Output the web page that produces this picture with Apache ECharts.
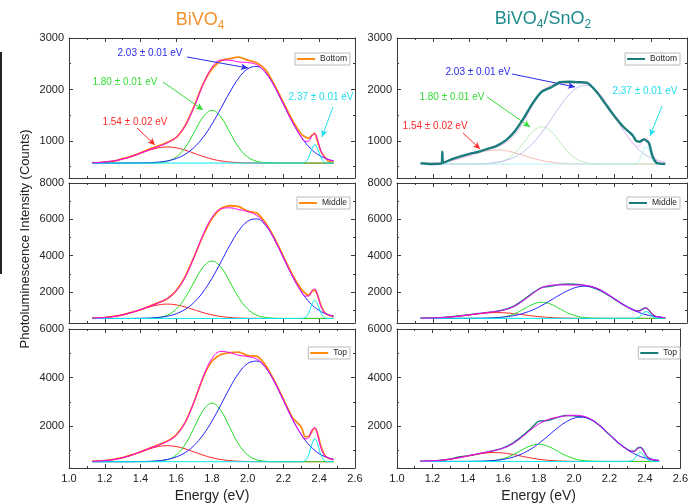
<!DOCTYPE html>
<html>
<head>
<meta charset="utf-8">
<script src="https://cdn.jsdelivr.net/npm/echarts@6/dist/echarts.min.js"></script>
<style>
  html, body { margin: 0; padding: 0; background: #fff; }
  #chart { width: 691px; height: 504px; }
</style>
</head>
<body>
<div id="chart"></div>
<script>
// energy axes (eV)
const energyGrid = [1.13,1.15,1.20,1.25,1.30,1.35,1.40,1.45,1.50,1.55,1.60,1.65,1.70,1.75,1.80,1.85,1.90,1.95,2.00,2.05,2.10,2.15,2.20,2.25,2.30,2.35,2.40,2.45,2.48];
const energyFit = [1.13,1.15,1.20,1.25,1.30,1.35,1.40,1.45,1.50,1.55,1.60,1.65,1.70,1.75,1.80,1.85,1.90,1.95,2.00,2.05,2.10,2.15,2.20,2.25,2.30,2.32,2.34,2.36,2.375,2.39,2.41,2.43,2.45,2.48];
const energyCyan = [1.13,2.27,2.30,2.32,2.34,2.36,2.375,2.39,2.41,2.43,2.45,2.48];
const energySpike = [1.13,1.15,1.20,1.245,1.25,1.255,1.30,1.35,1.40,1.45,1.50,1.55,1.60,1.65,1.70,1.75,1.80,1.85,1.90,1.95,2.00,2.05,2.10,2.15,2.20,2.25,2.30,2.32,2.34,2.36,2.375,2.39,2.41,2.43,2.45,2.48];

// BiVO4 - Bottom
const measL1 = [585,572,588,608,655,702,770,842,905,975,1065,1300,1672,2110,2400,2560,2600,2630,2570,2520,2380,2085,1740,1400,1130,1080,1050,1110,1150,1000,790,690,610,580];
const fitL1 = [576,579,591,612,648,699,763,830,893,961,1072,1294,1660,2093,2431,2571,2567,2535,2523,2482,2330,2055,1710,1364,1073,993,996,1109,1140,1027,802,682,642,613];
const redL1 = [576,579,591,612,648,699,760,821,866,883,866,821,760,699,648,612,591,579,573,571,570,570,570,570,570,570,570,570,570];
const greenL1 = [570,570,570,570,570,570,570,571,578,605,687,872,1166,1465,1595,1465,1166,872,687,605,578,571,570,570,570,570,570,570,570];
const blueL1 = [570,570,570,570,570,570,573,578,589,613,659,741,874,1069,1328,1634,1950,2224,2403,2446,2322,2054,1710,1364,1072,858,720,641,613];
const cyanL1 = [570,570,571,586,672,855,930,855,672,586,571,570];

// BiVO4 - Middle
const measL2 = [560,570,600,665,750,890,1030,1230,1420,1640,2080,2850,3950,5100,6050,6600,6750,6700,6450,6350,5800,4950,3950,2950,2150,1950,1820,2050,2100,1850,1250,880,740,650];
const fitL2 = [566,573,602,657,747,875,1041,1217,1405,1651,2070,2819,3921,5149,6115,6580,6635,6540,6423,6215,5718,4894,3880,2869,2019,1781,1781,2093,2173,1853,1214,875,759,675];
const redL2 = [566,573,602,657,747,875,1030,1183,1297,1340,1297,1183,1030,875,747,657,602,573,559,553,551,550,550,550,550,550,550,550,550];
const greenL2 = [550,550,550,550,550,550,552,562,603,736,1064,1688,2555,3368,3706,3368,2555,1688,1064,736,603,562,552,550,550,550,550,550,550];
const blueL2 = [550,550,550,550,550,550,559,572,605,675,809,1048,1436,2006,2762,3655,4578,5379,5900,6026,5664,4882,3878,2869,2016,1390,987,756,675];
const cyanL2 = [550,550,553,594,835,1351,1560,1351,835,594,553,550];

// BiVO4 - Top
const measL3 = [560,545,570,625,700,810,930,1090,1220,1380,1640,2150,3000,4000,4680,4950,5030,5050,4900,4880,4500,3850,3100,2350,1950,1560,1560,1800,1900,1700,1150,800,680,610];
const fitL3 = [543,549,574,619,694,801,938,1079,1214,1365,1625,2148,3005,4012,4784,5078,5027,4917,4863,4761,4421,3813,3050,2286,1643,1471,1514,1845,1944,1663,1085,785,689,625];
const redL3 = [543,549,574,619,694,801,931,1059,1154,1190,1154,1059,931,801,694,619,574,549,537,533,531,530,530,530,530,530,530,530,530];
const greenL3 = [530,530,530,530,530,530,530,533,548,611,805,1242,1933,2638,2945,2638,1933,1242,805,611,548,533,530,530,530,530,530,530,530];
const blueL3 = [530,530,530,530,530,530,537,547,572,624,726,907,1201,1633,2205,2881,3580,4186,4581,4677,4402,3810,3050,2286,1640,1166,861,686,625];
const cyanL3 = [530,530,533,572,798,1283,1480,1283,798,572,533,530];

// BiVO4/SnO2 - Bottom
const measR1 = [570,562,552,560,790,575,640,700,750,790,845,905,1010,1190,1450,1740,1960,2040,2140,2150,2140,2130,1960,1720,1480,1270,1110,1000,985,1030,1010,960,700,580,560,555];
const fitR1 = [556,558,568,587,618,663,719,777,832,884,965,1123,1386,1703,1962,2089,2116,2123,2133,2107,1987,1763,1481,1199,961,897,911,1028,1061,960,752,644,609,585];
const redR1 = [556,558,568,587,618,663,717,770,810,825,810,770,717,663,618,587,568,558,553,551,550,550,550,550,550,550,550,550,550];
const greenR1 = [550,550,550,550,550,550,550,551,556,574,633,764,971,1183,1275,1183,971,764,633,574,556,551,550,550,550,550,550,550,550];
const blueR1 = [550,550,550,550,550,550,552,556,566,585,622,689,798,957,1169,1419,1677,1901,2047,2082,1981,1762,1481,1199,960,785,672,608,585];
const cyanR1 = [550,550,551,565,646,820,890,820,646,565,551,550];

// BiVO4/SnO2 - Middle
const measR2 = [560,565,580,605,650,700,760,820,875,950,1060,1250,1580,1960,2260,2330,2420,2440,2420,2340,2180,1930,1620,1300,1050,980,980,1100,1120,1000,760,650,610,570];
const fitR2 = [561,564,576,598,634,685,750,817,880,942,1040,1232,1551,1932,2239,2379,2397,2389,2391,2358,2217,1958,1632,1306,1030,955,966,1090,1125,1012,783,662,623,595];
const redR2 = [561,564,576,598,634,685,747,809,855,872,855,809,747,685,634,598,576,564,558,556,555,555,555,555,555,555,555,555,555];
const greenR2 = [555,555,555,555,555,555,555,556,562,585,656,817,1072,1331,1444,1331,1072,817,656,585,562,556,555,555,555,555,555,555,555];
const blueR2 = [555,555,555,555,555,555,558,562,573,595,639,716,842,1026,1271,1560,1859,2118,2287,2327,2210,1957,1632,1306,1029,827,696,622,595];
const cyanR2 = [555,555,556,571,660,850,927,850,660,571,556,555];

// BiVO4/SnO2 - Top
const measR3 = [545,550,562,585,640,720,775,840,910,990,1100,1270,1540,1850,2200,2230,2340,2430,2420,2390,2250,1980,1640,1300,1040,970,960,1100,1130,1010,760,640,600,560];
const fitR3 = [547,551,564,590,632,691,766,846,918,992,1090,1257,1510,1811,2080,2260,2358,2417,2444,2409,2258,1988,1650,1313,1030,952,959,1080,1112,999,770,650,610,582];
const redR3 = [547,551,564,590,632,691,763,835,888,908,888,835,763,691,632,590,564,551,544,541,540,540,540,540,540,540,540,540,540];
const greenR3 = [540,540,540,540,540,540,540,543,552,582,656,796,991,1174,1250,1174,991,796,656,582,552,543,540,540,540,540,540,540,540];
const blueR3 = [540,540,540,540,540,540,543,548,558,582,626,706,836,1026,1278,1576,1883,2150,2324,2366,2246,1985,1650,1313,1029,820,686,609,582];
const cyanR3 = [540,540,541,556,644,832,908,832,644,556,541,540];

// y ticks for each row
const yRange = [[280, 3000], [300, 8000], [270, 6000]];
const yMajor = [[1000, 2000, 3000], [2000, 4000, 6000, 8000], [2000, 4000, 6000]];
const yMinor = [[500, 1500, 2500], [1000, 3000, 5000, 7000], [1000, 3000, 5000]];

// peak labels (row 1)
const peakLabels = ['2.03 \u00b1 0.01 eV', '1.80 \u00b1 0.01 eV', '1.54 \u00b1 0.02 eV', '2.37 \u00b1 0.01 eV'];
const annotL1 = [
  { at: [1.453, 2709], from: [1.660, 2631], to: [2.001, 2417] },
  { at: [1.313, 2145], from: [1.526, 2145], to: [1.750, 1602] },
  { at: [1.369, 1368], from: [1.380, 1252], to: [1.481, 922] },
  { at: [2.410, 1854], from: [2.477, 1660], to: [2.415, 1077] }
];
const annotR1 = [
  { at: [1.447, 2340], from: [1.634, 2301], to: [1.982, 2049] },
  { at: [1.303, 1854], from: [1.497, 1854], to: [1.734, 1271] },
  { at: [1.210, 1291], from: [1.364, 1155], to: [1.458, 844] },
  { at: [2.368, 1970], from: [2.462, 1679], to: [2.396, 1096] }
];

const font = 'Liberation Sans, Arial, sans-serif';
const frame = '#3a3a3a';
const orange = '#ff8a10', teal = '#1b7c7c', magenta = '#ff00ff';
const compColors = ['#ff2020', '#22dd22', '#2222ff', '#00e8f0'];
const fadedColors = ['#f4b8b8', '#bdeebd', '#c0c0f2', '#b8f2f4'];
const labelColors = ['#2a2aee', '#33dd33', '#ff2a2a', '#22ddee'];

const zip = (xs, ys) => xs.map((x, i) => [x, ys[i]]);

const panels = [
  { id: 'L1', label: 'Bottom', col: 0, row: 0, mx: energyFit, meas: measL1, fit: fitL1, comps: [redL1, greenL1, blueL1, cyanL1], color: orange, lw: 1.8, annot: annotL1 },
  { id: 'L2', label: 'Middle', col: 0, row: 1, mx: energyFit, meas: measL2, fit: fitL2, comps: [redL2, greenL2, blueL2, cyanL2], color: orange, lw: 1.8 },
  { id: 'L3', label: 'Top', col: 0, row: 2, mx: energyFit, meas: measL3, fit: fitL3, comps: [redL3, greenL3, blueL3, cyanL3], color: orange, lw: 1.8 },
  { id: 'R1', label: 'Bottom', col: 1, row: 0, mx: energySpike, meas: measR1, fit: fitR1, comps: [redR1, greenR1, blueR1, cyanR1], color: teal, lw: 2.4, faded: true, annot: annotR1 },
  { id: 'R2', label: 'Middle', col: 1, row: 1, mx: energyFit, meas: measR2, fit: fitR2, comps: [redR2, greenR2, blueR2, cyanR2], color: teal, lw: 1.5 },
  { id: 'R3', label: 'Top', col: 1, row: 2, mx: energyFit, meas: measR3, fit: fitR3, comps: [redR3, greenR3, blueR3, cyanR3], color: teal, lw: 1.5 }
];

const colLeft = [69, 397], colWidth = [286, 290];
const rowTop = [38, 183, 329], rowHeight = 140;
const legendTop = [53, 197, 347];
const legendRight = [341, 11];

const grids = [], xAxes = [], yAxes = [], series = [], legends = [];

function xAxisCfg(i, pos, labels) {
  return {
    type: 'value', gridIndex: i, position: pos, min: 1, max: 2.6, interval: 0.2,
    axisLine: { show: true, onZero: false, lineStyle: { color: frame, width: 1 } },
    axisTick: { show: true, inside: true, length: 4, lineStyle: { color: frame } },
    minorTick: { show: true, splitNumber: 2, length: 2, lineStyle: { color: frame } },
    axisLabel: { show: labels, formatter: v => v.toFixed(1), fontSize: 11, color: '#222', fontFamily: font, margin: 5 },
    splitLine: { show: false }, minorSplitLine: { show: false },
    name: labels ? 'Energy (eV)' : '', nameLocation: 'middle', nameGap: 21,
    nameTextStyle: { fontSize: 14, color: '#222', fontFamily: font }
  };
}
function yAxisCfg(i, row, pos, labels, ticks, len, line) {
  return {
    type: 'value', gridIndex: i, position: pos, min: yRange[row][0], max: yRange[row][1],
    axisLine: { show: line, onZero: false, lineStyle: { color: frame, width: 1 } },
    axisTick: { show: true, inside: true, length: len, customValues: ticks, lineStyle: { color: frame } },
    axisLabel: { show: labels, customValues: ticks, formatter: v => String(v), fontSize: 11, color: '#222', fontFamily: font, margin: 5 },
    splitLine: { show: false }
  };
}
function line(i, name, xs, ys, color, width, z) {
  return {
    type: 'line', name: name, xAxisIndex: i, yAxisIndex: i, data: zip(xs, ys),
    symbol: 'none', showSymbol: false, smooth: 0.4, silent: true, z: z,
    lineStyle: { color: color, width: width }, itemStyle: { color: color }
  };
}

panels.forEach((p, i) => {
  grids.push({ left: colLeft[p.col], top: rowTop[p.row], width: colWidth[p.col], height: rowHeight });
});
panels.forEach((p, i) => xAxes.push(xAxisCfg(i, 'bottom', p.row === 2)));
panels.forEach((p, i) => xAxes.push(xAxisCfg(i, 'top', false)));
panels.forEach((p, i) => yAxes.push(yAxisCfg(i, p.row, 'left', true, yMajor[p.row], 4, true)));
panels.forEach((p, i) => yAxes.push(yAxisCfg(i, p.row, 'left', false, yMinor[p.row], 2, false)));
panels.forEach((p, i) => yAxes.push(yAxisCfg(i, p.row, 'right', false, yMajor[p.row], 4, true)));
panels.forEach((p, i) => yAxes.push(yAxisCfg(i, p.row, 'right', false, yMinor[p.row], 2, false)));

panels.forEach((p, i) => {
  const cols = p.faded ? fadedColors : compColors;
  const measName = p.id + '|' + p.label;
  const meas = line(i, measName, p.mx, p.meas, p.color, p.lw, p.faded ? 5 : 2);
  meas.smooth = 0.2;
  series.push(meas);
  p.comps.forEach((c, k) => {
    const xs = k === 3 ? energyCyan : energyGrid;
    series.push(line(i, p.id + '-c' + k, xs, c, cols[k], 1, 3));
  });
  series.push(line(i, p.id + '-fit', energyFit, p.fit, p.faded ? '#f6c0f6' : magenta, 1, 4));

  if (p.annot) {
    // annotation order: blue, green, red, cyan
    series.push({
      type: 'line', name: p.id + '-annot', xAxisIndex: i, yAxisIndex: i, data: [], silent: true, z: 6,
      markLine: {
        silent: true, animation: false, symbol: ['none', 'arrow'], symbolSize: [5, 7],
        label: { show: false },
        data: p.annot.map((a, k) => [
          { coord: a.from, lineStyle: { color: labelColors[k], width: 1, type: 'solid' } },
          { coord: a.to }
        ])
      },
      markPoint: {
        silent: true, animation: false, symbol: 'circle', symbolSize: 0,
        data: p.annot.map((a, k) => ({
          coord: a.at,
          itemStyle: { color: 'rgba(0,0,0,0)' },
          label: { show: true, position: 'inside', formatter: peakLabels[k], color: labelColors[k], fontSize: 10, fontFamily: font }
        }))
      }
    });
  }

  legends.push({
    data: [measName], right: legendRight[p.col], top: legendTop[p.row], orient: 'horizontal',
    selectedMode: false, backgroundColor: '#fff', borderColor: '#bbb', borderWidth: 1, borderRadius: 0,
    padding: [1, 3, 1, 2], itemWidth: 18, itemHeight: 2, itemGap: 0, icon: 'rect',
    textStyle: { fontSize: 8.5, color: '#222', fontFamily: font, lineHeight: 10 },
    formatter: n => n.split('|')[1]
  });
});

const chart = echarts.init(document.getElementById('chart'));
chart.setOption({
  animation: false,
  backgroundColor: '#fff',
  textStyle: { fontFamily: font },
  grid: grids,
  xAxis: xAxes,
  yAxis: yAxes,
  legend: legends,
  series: series,
  graphic: [
    { type: 'rect', shape: { x: 0, y: 52, width: 2, height: 222 }, style: { fill: '#222' } },
    {
      type: 'text', x: 200, y: 20,
      style: {
        text: '{b|BiVO}{s|4}', align: 'center', verticalAlign: 'middle',
        rich: {
          b: { fontSize: 18, fill: '#f5922a', fontFamily: font, lineHeight: 24, verticalAlign: 'middle' },
          s: { fontSize: 12, fill: '#f5922a', fontFamily: font, lineHeight: 12, verticalAlign: 'bottom' }
        }
      }
    },
    {
      type: 'text', x: 543, y: 19,
      style: {
        text: '{b|BiVO}{s|4}{b|/SnO}{s|2}', align: 'center', verticalAlign: 'middle',
        rich: {
          b: { fontSize: 18, fill: '#1d8c8c', fontFamily: font, lineHeight: 24, verticalAlign: 'middle' },
          s: { fontSize: 12, fill: '#1d8c8c', fontFamily: font, lineHeight: 12, verticalAlign: 'bottom' }
        }
      }
    },
    {
      type: 'text', x: 25, y: 239, rotation: Math.PI / 2,
      style: {
        text: 'Photoluminescence Intensity (Counts)', align: 'center', verticalAlign: 'middle',
        fontSize: 13, fill: '#222', fontFamily: font
      }
    }
  ]
});
</script>
</body>
</html>
